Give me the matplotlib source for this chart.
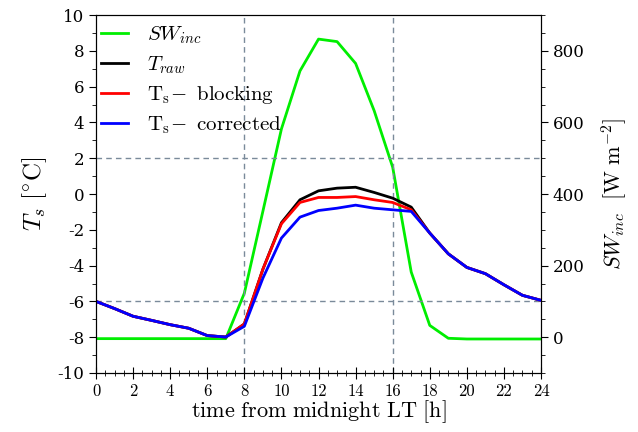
import numpy as np
import matplotlib
matplotlib.use('Agg')
import matplotlib.pyplot as plt
from matplotlib.ticker import MultipleLocator

plt.rcParams['mathtext.fontset'] = 'cm'
plt.rcParams['axes.unicode_minus'] = False

hours = np.arange(0, 25)
sw_inc = [-4, -4, -4, -4, -4, -4, -4, -4, 123, 352, 582, 744, 833, 826, 765, 633,
          475, 182, 33, -3, -5, -5, -5, -5, -5]
t_raw = [-6.0, -6.4, -6.83, -7.06, -7.3, -7.5, -7.91, -7.99, -7.26, -4.2, -1.6, -0.32,
         0.18, 0.33, 0.38, 0.09, -0.23, -0.73, -2.18, -3.34, -4.1, -4.45, -5.07, -5.66, -5.94]
t_blocking = [-6.0, -6.4, -6.83, -7.06, -7.3, -7.5, -7.91, -7.99, -7.26, -4.2, -1.66, -0.47,
              -0.19, -0.19, -0.14, -0.32, -0.47, -0.88, -2.18, -3.34, -4.1, -4.45, -5.07, -5.66, -5.94]
t_corrected = [-6.0, -6.4, -6.83, -7.06, -7.3, -7.5, -7.91, -7.99, -7.39, -4.7, -2.46, -1.29,
               -0.92, -0.79, -0.62, -0.79, -0.88, -0.97, -2.18, -3.34, -4.1, -4.45, -5.07, -5.66, -5.94]

fig = plt.figure(figsize=(6.38, 4.32), dpi=100)
ax = fig.add_axes([0.1505, 0.1366, 0.6975, 0.8284])
ax2 = ax.twinx()

# dashed guide lines
for yv in [2, -6]:
    ax.axhline(yv, color='#7a8a9a', linestyle='--', linewidth=1, dashes=(4, 3), zorder=1)
for xv in [8, 16]:
    ax.axvline(xv, color='#7a8a9a', linestyle='--', linewidth=1, dashes=(4, 3), zorder=1)

l_sw, = ax2.plot(hours, sw_inc, color='#00ee00', linewidth=2, label=r'$SW_{inc}$')
l_raw, = ax.plot(hours, t_raw, color='black', linewidth=2, label=r'$T_{raw}$')
l_blk, = ax.plot(hours, t_blocking, color='red', linewidth=2,
                 label=r'$\mathrm{T_s}\!-\mathrm{\ blocking}$')
l_cor, = ax.plot(hours, t_corrected, color='blue', linewidth=2,
                 label=r'$\mathrm{T_s}\!-\mathrm{\ corrected}$')

ax.set_xlim(0, 24)
ax.set_ylim(-10, 10)
ax2.set_ylim(-100, 900)

ax.xaxis.set_major_locator(MultipleLocator(2))
ax.xaxis.set_minor_locator(MultipleLocator(0.5))
ax.yaxis.set_major_locator(MultipleLocator(2))
ax.yaxis.set_minor_locator(MultipleLocator(1))
ax2.yaxis.set_minor_locator(MultipleLocator(50))
ax2.set_yticks([0, 200, 400, 600, 800])

ax.tick_params(axis='x', which='major', direction='inout', length=8, labelsize=12)
ax.tick_params(axis='x', which='minor', direction='inout', length=4)
ax.tick_params(axis='y', which='major', direction='out', length=5, labelsize=12)
ax.tick_params(axis='y', which='minor', direction='out', length=3)
ax2.tick_params(axis='y', which='major', direction='out', length=5, labelsize=12)
ax2.tick_params(axis='y', which='minor', direction='out', length=3)

for lab in ax.get_xticklabels():
    lab.set_family('cmr10')
for lab in ax.get_yticklabels() + ax2.get_yticklabels():
    lab.set_family('DejaVu Serif')

ax.set_xlabel(r'$\mathrm{time\ from\ midnight\ LT\ [h]}$', fontsize=16, labelpad=0)
ax.set_ylabel(r'$T_s\ [^{\circ}\mathrm{C}]$', fontsize=18, labelpad=6)
ax2.set_ylabel(r'$SW_{inc}\ \ [\mathrm{W\ m^{-2}}]$', fontsize=16, labelpad=10)

ax.set_zorder(ax2.get_zorder() + 1)
ax.patch.set_visible(False)

ax.legend(handles=[l_sw, l_raw, l_blk, l_cor], loc='upper left', frameon=False,
          fontsize=15, handlelength=1.3, handletextpad=0.9, labelspacing=0.4,
          borderaxespad=0.1, borderpad=0.35, bbox_to_anchor=(-0.01, 1.0))

fig.savefig('out.png', dpi=100)
